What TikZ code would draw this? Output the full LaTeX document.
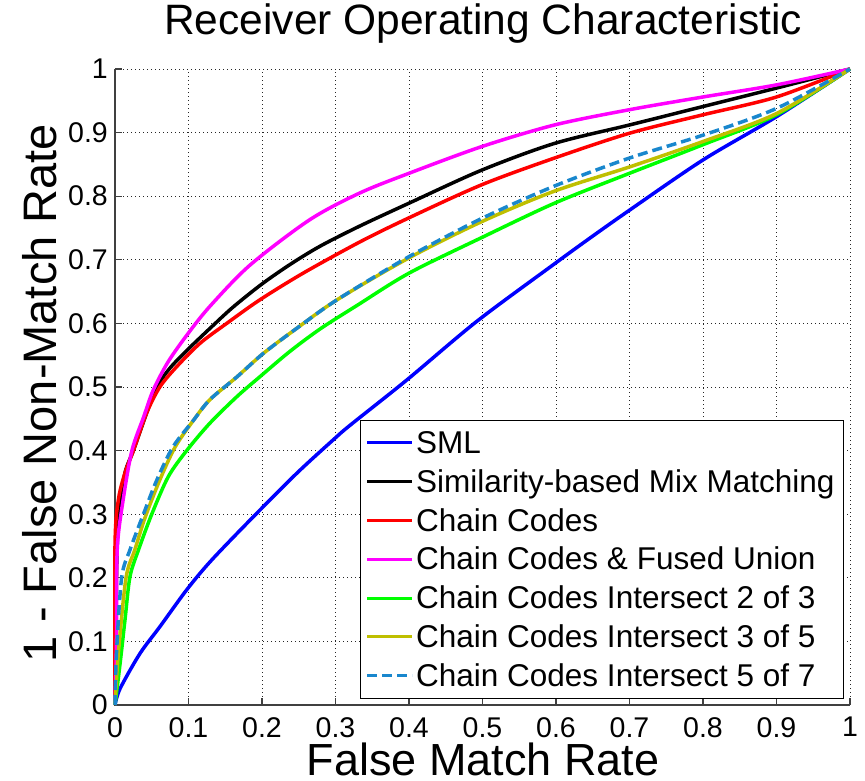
\documentclass[tikz,border=0pt]{standalone}
\usepackage{fontspec}
\setmainfont{Liberation Sans}

\definecolor{smlblue}{RGB}{0,0,255}
\definecolor{ccred}{RGB}{255,0,0}
\definecolor{ccmagenta}{RGB}{255,0,255}
\definecolor{ccgreen}{RGB}{0,255,0}
\definecolor{ccolive}{RGB}{191,191,0}
\definecolor{ccdash}{RGB}{25,135,205}
\definecolor{axisgray}{RGB}{64,64,64}

\tikzset{
    curve/.style={line width=3.5pt, line join=round},
    smlline/.style={curve, smlblue},
    simline/.style={curve, black},
    chainline/.style={curve, ccred},
    unionline/.style={curve, ccmagenta},
    twothree/.style={curve, ccgreen},
    threefive/.style={curve, ccolive},
    fiveseven/.style={curve, ccdash, dash pattern=on 10pt off 5pt},
    gridline/.style={line width=0.9pt, black!85, dash pattern=on 1pt off 3pt},
    ticklabel/.style={font=\fontsize{28.5}{28.5}\selectfont, inner sep=0pt},
    legendtext/.style={font=\fontsize{31.5}{31.5}\selectfont, inner sep=0pt, anchor=base west},
}

\begin{document}
\begin{tikzpicture}[x=1pt, y=1pt]
    \useasboundingbox (0,0) rectangle (865,781);

    % 标题和坐标轴名称
    \node[font=\fontsize{42.5}{42.5}\selectfont, inner sep=0pt] (title) at (483,757) {Receiver Operating Characteristic};
    \node[font=\fontsize{45}{45}\selectfont, inner sep=0pt] (xlabel) at (483,22) {False Match Rate};
    \node[font=\fontsize{47}{47}\selectfont, inner sep=0pt, rotate=90] (ylabel) at (40,388) {1 - False Non-Match Rate};

    \begin{scope}[shift={(115pt,76pt)}, x=735pt, y=636pt]
        % 画网格 (虚点线)
        \foreach \g in {0.1,0.2,0.3,0.4,0.5,0.6,0.7,0.8,0.9,1} {
            \draw[gridline] (\g,0) -- (\g,1);
            \draw[gridline] (0,\g) -- (1,\g);
        }

        % 坐标轴和刻度
        \draw[axisgray, line width=1.5pt] (0,1) -- (0,0) -- (1,0);
        \foreach \t in {0,0.1,0.2,0.3,0.4,0.5,0.6,0.7,0.8,0.9,1} {
            \draw[axisgray, line width=1.2pt] (\t,0) -- ++(0,7pt);
            \draw[axisgray, line width=1.2pt] (0,\t) -- ++(7pt,0);
            \node[ticklabel, anchor=north] at ([yshift=-12pt]\t,0) {\t};
            \node[ticklabel, anchor=east] at ([xshift=-7pt]0,\t) {\t};
        }

        % SML
        \draw[smlline] plot[smooth, tension=0.5] coordinates {(0,0) (0.007,0.026) (0.034,0.081) (0.061,0.123) (0.0975,0.181) (0.13,0.226) (0.184,0.291) (0.247,0.364) (0.297,0.417) (0.320,0.440) (0.397,0.511) (0.492,0.603) (0.596,0.692) (0.646,0.734) (0.7,0.778) (0.8,0.857) (0.9,0.925) (1,1)};

        % Similarity-based Mix Matching
        \draw[simline] plot[smooth, tension=0.5] coordinates {(0,0) (0.002,0.2) (0.005,0.3) (0.0136,0.365) (0.025,0.4) (0.043,0.459) (0.057,0.5) (0.075,0.53) (0.1,0.56) (0.13,0.593) (0.16,0.625) (0.2,0.662) (0.24,0.694) (0.28,0.722) (0.333,0.753) (0.4,0.789) (0.499,0.841) (0.598,0.883) (0.7,0.912) (0.8,0.941) (0.9,0.970) (1,1)};

        % Chain Codes
        \draw[chainline] plot[smooth, tension=0.5] coordinates {(0,0) (0,0.25) (0.0045,0.322) (0.0136,0.365) (0.025,0.4) (0.043,0.459) (0.061,0.5) (0.084,0.532) (0.116,0.569) (0.152,0.6) (0.197,0.637) (0.256,0.679) (0.333,0.728) (0.4,0.766) (0.499,0.818) (0.598,0.860) (0.7,0.899) (0.8,0.928) (0.9,0.956) (1,1)};

        % Chain Codes & Fused Union
        \draw[unionline] plot[smooth, tension=0.5] coordinates {(0,0) (0.002,0.1) (0.003,0.244) (0.011,0.322) (0.023,0.4) (0.039,0.453) (0.052,0.495) (0.0725,0.54) (0.1,0.585) (0.13,0.628) (0.184,0.692) (0.265,0.763) (0.333,0.805) (0.4,0.836) (0.499,0.878) (0.598,0.912) (0.7,0.936) (0.8,0.956) (0.9,0.975) (1,1)};

        % Intersect 2 of 3
        \draw[twothree] plot[smooth, tension=0.5] coordinates {(0,0) (0.007,0.066) (0.0136,0.134) (0.0204,0.202) (0.032,0.244) (0.05,0.30) (0.0725,0.359) (0.0975,0.4) (0.129,0.443) (0.166,0.485) (0.197,0.516) (0.238,0.556) (0.28,0.592) (0.329,0.628) (0.4,0.679) (0.499,0.735) (0.598,0.789) (0.7,0.836) (0.8,0.881) (0.9,0.928) (1,1)};

        % Intersect 3 of 5
        \draw[threefive] plot[smooth, tension=0.5] coordinates {(0,0) (0.0045,0.081) (0.015,0.2) (0.027,0.244) (0.041,0.295) (0.061,0.354) (0.082,0.406) (0.107,0.448) (0.129,0.48) (0.166,0.516) (0.202,0.553) (0.247,0.592) (0.302,0.637) (0.4,0.703) (0.499,0.76) (0.598,0.808) (0.7,0.846) (0.8,0.886) (0.9,0.930) (1,1)};

        % Intersect 5 of 7
        \draw[fiveseven] plot[smooth, tension=0.5] coordinates {(0,0) (0.002,0.081) (0.009,0.2) (0.0204,0.244) (0.039,0.301) (0.057,0.354) (0.079,0.406) (0.107,0.448) (0.129,0.48) (0.166,0.516) (0.202,0.553) (0.247,0.592) (0.302,0.637) (0.4,0.705) (0.499,0.765) (0.598,0.816) (0.7,0.860) (0.8,0.896) (0.9,0.938) (1,1)};
    \end{scope}

    % 图例
    \draw[fill=white, line width=0.8pt] (360,361) rectangle (843,83);
    \foreach \sty/\txt [count=\i] in {smlline/SML, simline/Similarity-based Mix Matching, chainline/Chain Codes, unionline/Chain Codes \& Fused Union, twothree/Chain Codes Intersect 2 of 3, threefive/Chain Codes Intersect 3 of 5, fiveseven/Chain Codes Intersect 5 of 7} {
        \draw[\sty, line width=3pt] (367,377.4-38.9*\i) -- (412,377.4-38.9*\i);
        \node[legendtext] (leg\i) at (416,366.6-38.9*\i) {\txt};
    }
\end{tikzpicture}
\end{document}
